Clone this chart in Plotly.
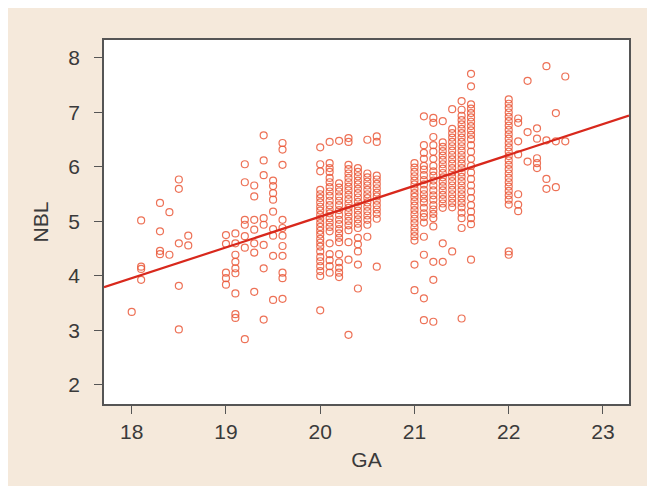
import plotly.graph_objects as go

# Gestational age columns (weeks.days) and NBL readings per column, grouped by week
GA_W18 = [18.0, 18.1, 18.3, 18.4, 18.5, 18.6]
NBL_W18 = [
    [3.34],
    [5.02, 4.17, 4.13, 3.93],
    [5.34, 4.82, 4.46, 4.40],
    [5.17, 4.39],
    [5.77, 5.60, 4.60, 3.82, 3.02],
    [4.74, 4.56],
]

GA_W19 = [19.0, 19.1, 19.2, 19.3, 19.4, 19.5, 19.6]
NBL_W19 = [
    [4.75, 4.59, 4.06, 3.96, 3.84],
    [4.78, 4.60, 4.39, 4.26, 4.14, 4.05, 3.68, 3.30, 3.23],
    [6.05, 5.72, 5.03, 4.94, 4.73, 4.52, 2.84],
    [5.66, 5.46, 5.03, 4.85, 4.60, 4.43, 3.71],
    [6.58, 6.12, 5.85, 5.06, 4.94, 4.57, 4.14, 3.20],
    [5.75, 5.65, 5.52, 5.40, 5.18, 4.86, 4.74, 4.37, 3.56],
    [6.44, 6.32, 6.04, 5.03, 4.88, 4.74, 4.55, 4.37, 4.06, 3.96, 3.58],
]

GA_W20 = [20.0, 20.1, 20.2, 20.3, 20.4, 20.5, 20.6]
NBL_W20 = [
    [6.36, 6.05, 5.92, 5.58, 5.50, 5.43, 5.35, 5.27, 5.20, 5.12, 5.05, 4.97, 4.90,
     4.83, 4.76, 4.68, 4.61, 4.54, 4.45, 4.35, 4.27, 4.18, 4.09, 4.00, 3.37],
    [6.46, 6.07, 5.98, 5.91, 5.80, 5.72, 5.63, 5.55, 5.47, 5.38, 5.30, 5.22, 5.15,
     5.06, 4.98, 4.90, 4.82, 4.60, 4.40, 4.29, 4.18, 4.06],
    [6.48, 5.70, 5.62, 5.55, 5.46, 5.38, 5.30, 5.21, 5.12, 5.03, 4.95, 4.86, 4.78,
     4.70, 4.62, 4.40, 4.25, 4.15, 4.06, 3.98],
    [6.53, 6.46, 6.04, 5.96, 5.88, 5.80, 5.72, 5.64, 5.57, 5.49, 5.41, 5.33, 5.25,
     5.17, 5.09, 5.01, 4.93, 4.84, 4.62, 4.30, 2.92],
    [5.98, 5.91, 5.83, 5.75, 5.68, 5.60, 5.52, 5.44, 5.36, 5.28, 5.20, 5.12, 5.04,
     4.96, 4.88, 4.70, 4.58, 4.45, 4.21, 3.77],
    [6.50, 5.88, 5.81, 5.73, 5.66, 5.58, 5.50, 5.43, 5.35, 5.27, 5.19, 5.11, 5.03,
     4.94, 4.72],
    [6.56, 6.46, 5.84, 5.77, 5.69, 5.61, 5.53, 5.46, 5.38, 5.30, 5.22, 5.14, 5.05, 4.17],
]

GA_W21 = [21.0, 21.1, 21.2, 21.3, 21.4, 21.5, 21.6]
NBL_W21 = [
    [6.07, 5.99, 5.91, 5.83, 5.75, 5.68, 5.60, 5.52, 5.45, 5.37, 5.29, 5.21, 5.13,
     5.05, 4.97, 4.89, 4.81, 4.73, 4.65, 4.21, 3.74],
    [6.93, 6.40, 6.26, 6.15, 6.02, 5.95, 5.85, 5.76, 5.68, 5.58, 5.50, 5.42, 5.35,
     5.25, 5.15, 5.08, 4.98, 4.72, 4.39, 3.59, 3.19],
    [6.90, 6.81, 6.55, 6.40, 6.28, 6.15, 6.02, 5.92, 5.84, 5.75, 5.66, 5.57, 5.48,
     5.40, 5.30, 5.22, 5.14, 5.06, 4.91, 4.26, 3.93, 3.16],
    [6.84, 6.45, 6.37, 6.29, 6.21, 6.13, 6.05, 5.97, 5.89, 5.81, 5.73, 5.65, 5.57,
     5.49, 5.41, 5.33, 5.25, 4.60, 4.26],
    [7.06, 6.70, 6.62, 6.54, 6.46, 6.38, 6.30, 6.22, 6.14, 6.06, 5.98, 5.90, 5.82,
     5.74, 5.66, 5.58, 5.50, 5.42, 5.34, 5.26, 4.45],
    [7.21, 7.05, 6.94, 6.86, 6.78, 6.70, 6.62, 6.54, 6.46, 6.38, 6.30, 6.22, 6.14,
     6.06, 5.98, 5.90, 5.82, 5.74, 5.66, 5.58, 5.50, 5.42, 5.34, 5.26, 5.16, 5.06,
     4.88, 3.22],
    [7.71, 7.48, 7.15, 7.07, 6.99, 6.91, 6.83, 6.75, 6.67, 6.59, 6.51, 6.40, 6.28,
     6.15, 6.02, 5.90, 5.78, 5.66, 5.55, 5.43, 5.30, 5.18, 5.06, 4.95, 4.30],
]

GA_W22 = [22.0, 22.1, 22.2, 22.3, 22.4, 22.5, 22.6]
NBL_W22 = [
    [7.24, 7.16, 7.08, 7.00, 6.92, 6.84, 6.76, 6.68, 6.60, 6.52, 6.44, 6.36, 6.28,
     6.20, 6.12, 6.04, 5.96, 5.88, 5.80, 5.72, 5.64, 5.56, 5.48, 5.40, 5.31, 4.45, 4.39],
    [6.89, 6.81, 6.47, 6.23, 5.50, 5.31, 5.19],
    [7.58, 6.64, 6.10],
    [6.71, 6.52, 6.16, 6.07, 5.98],
    [7.85, 6.49, 5.78, 5.60],
    [6.99, 6.47, 5.63],
    [7.66, 6.47],
]

# Regression line: NBL = a + b * GA
LINE_A = -6.22
LINE_B = 0.5655

X_RANGE = [17.706, 23.276]
Y_RANGE = [1.651, 8.33]
X_TICKS = [18, 19, 20, 21, 22, 23]
Y_TICKS = [2, 3, 4, 5, 6, 7, 8]

xs, ys = [], []
for cols, vals in [(GA_W18, NBL_W18), (GA_W19, NBL_W19), (GA_W20, NBL_W20),
                   (GA_W21, NBL_W21), (GA_W22, NBL_W22)]:
    for ga, col in zip(cols, vals):
        for v in col:
            xs.append(ga)
            ys.append(v)

line_x = X_RANGE
line_y = [LINE_A + LINE_B * x for x in line_x]

fig = go.Figure()
fig.add_trace(go.Scatter(
    x=xs, y=ys, mode="markers",
    marker=dict(symbol="circle-open", size=7, color="rgba(234,88,56,0.85)",
                line=dict(width=1.2)),
    showlegend=False, hoverinfo="x+y",
))
fig.add_trace(go.Scatter(
    x=line_x, y=line_y, mode="lines",
    line=dict(color="#d8281c", width=2.2),
    showlegend=False, hoverinfo="skip",
))

FONT = "Liberation Sans, Arial"
axis_common = dict(
    showgrid=False, zeroline=False, showline=True, linecolor="#555555",
    linewidth=1.5, mirror=True, ticks="outside", ticklen=8, tickwidth=1,
    tickcolor="#555555", automargin=False,
    tickfont=dict(family=FONT, size=21, color="#3a3a3a"),
)
fig.update_xaxes(range=X_RANGE, tickvals=X_TICKS, ticklabelstandoff=0, **axis_common,
                 title=dict(text="GA", font=dict(family=FONT, size=21, color="#3a3a3a"),
                            standoff=10))
fig.update_yaxes(range=Y_RANGE, tickvals=Y_TICKS, ticklabelstandoff=10, **axis_common,
                 title=dict(text="NBL", font=dict(family=FONT, size=21, color="#3a3a3a"),
                            standoff=14))
fig.update_layout(
    width=647, height=478,
    margin=dict(l=96, r=26, t=32, b=82),
    paper_bgcolor="#f5e9db", plot_bgcolor="white",
)
fig.write_html("out.html")
